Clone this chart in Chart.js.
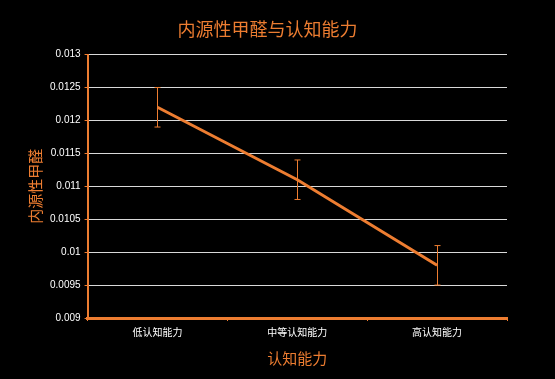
<!DOCTYPE html>
<html>
<head>
<meta charset="utf-8">
<script src="https://cdn.jsdelivr.net/npm/chart.js@4"></script>
<style>
  body { margin: 0; background: #000; }
  #wrap { width: 555px; height: 379px; }
</style>
</head>
<body>
<div id="wrap"><canvas id="c"></canvas></div>
<script>
const labels = ['低认知能力', '中等认知能力', '高认知能力'];
const means = [0.0122, 0.0111, 0.0098];
const upper = [0.0125, 0.0114, 0.0101];
const lower = [0.0119, 0.0108, 0.0095];

const orange = '#ED7D31';
const cjk = "'Liberation Sans', 'Noto Sans CJK SC', sans-serif";

// error bars drawn with the y scale
const errorBars = {
  id: 'errorBars',
  afterDatasetsDraw(chart) {
    const { ctx, scales: { x, y } } = chart;
    ctx.save();
    ctx.strokeStyle = orange;
    ctx.lineWidth = 1;
    means.forEach((m, i) => {
      const px = Math.round(x.getPixelForValue(i)) + 0.5;
      const top = y.getPixelForValue(upper[i]);
      const bot = y.getPixelForValue(lower[i]);
      ctx.beginPath();
      ctx.moveTo(px, top); ctx.lineTo(px, bot);
      ctx.moveTo(px - 3, top); ctx.lineTo(px + 3, top);
      ctx.moveTo(px - 3, bot); ctx.lineTo(px + 3, bot);
      ctx.stroke();
    });
    ctx.restore();
  }
};

new Chart(document.getElementById('c'), {
  type: 'line',
  data: {
    labels: labels,
    datasets: [{
      data: means,
      borderColor: orange,
      borderWidth: 3,
      pointRadius: 0,
      fill: false,
      tension: 0
    }]
  },
  options: {
    responsive: true,
    maintainAspectRatio: false,
    animation: false,
    layout: { padding: { left: 28, right: 48, top: 10, bottom: 6 } },
    plugins: {
      legend: { display: false },
      tooltip: { enabled: false },
      title: {
        display: true,
        text: '内源性甲醛与认知能力',
        color: orange,
        font: { family: cjk, size: 18, weight: 'normal' },
        padding: { top: 10, bottom: 13 }
      }
    },
    scales: {
      x: {
        offset: true,
        grid: { display: true, drawOnChartArea: false, offset: true, color: orange, tickLength: 3 },
        border: { color: orange, width: 3 },
        ticks: { color: '#ffffff', font: { family: cjk, size: 10 }, padding: 6 },
        title: { display: true, text: '认知能力', color: orange, font: { family: cjk, size: 15 }, padding: { top: 6 } }
      },
      y: {
        min: 0.009,
        max: 0.013,
        ticks: {
          stepSize: 0.0005,
          color: '#ffffff',
          font: { family: cjk, size: 10 },
          padding: 4,
          callback: v => String(parseFloat(v.toFixed(4)))
        },
        grid: { color: '#d9d9d9', tickColor: orange, tickLength: 3, lineWidth: 1 },
        border: { color: orange, width: 2 },
        title: { display: true, text: '内源性甲醛', color: orange, font: { family: cjk, size: 15 }, padding: { top: 0, bottom: 0 } }
      }
    }
  },
  plugins: [errorBars]
});
</script>
</body>
</html>
